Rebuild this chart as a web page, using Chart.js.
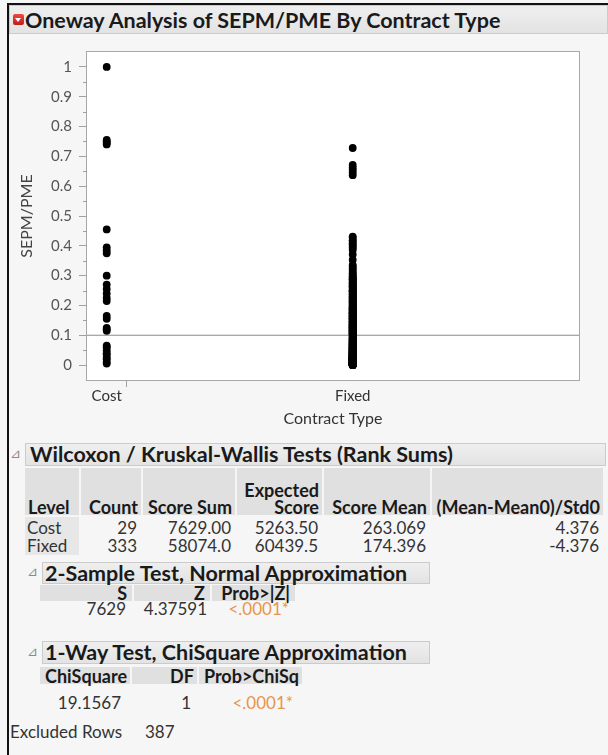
<!DOCTYPE html>
<html>
<head>
<meta charset="utf-8">
<script src="https://cdn.jsdelivr.net/npm/chart.js@4.4.1/dist/chart.umd.min.js"></script>
<style>
    html, body { margin: 0; padding: 0; }
    body {
        width: 608px; height: 755px; position: relative; overflow: hidden;
        background: #f6f6f6; font-family: Lato, 'Open Sans', sans-serif; color: #333;
    }
    .frame { position: absolute; background: #111; z-index: 5; }
    .bar {
        position: absolute; box-sizing: border-box;
        background: linear-gradient(#efefef, #e3e3e3); border: 1px solid #cbcbcb;
    }
    .hcell { position: absolute; background: #e0e0e0; }
    .lcell { position: absolute; background: #e7e7e7; }
    .txt { position: absolute; white-space: nowrap; }
    .tri { position: absolute; font-family: 'DejaVu Sans', sans-serif; font-size: 13px; color: #8a8a8a; }
    .redbtn {
        position: absolute; left: 13px; top: 14px; width: 11px; height: 11px;
        background: linear-gradient(#ea4b42, #c41c17); border-radius: 2px;
    }
    .redbtn::after {
        content: ''; position: absolute; left: 2px; top: 4px;
        border-left: 3.5px solid transparent; border-right: 3.5px solid transparent; border-top: 4.5px solid #fff;
    }
    #plot { position: absolute; left: 0; top: 36px; width: 608px; height: 395px; }
</style>
</head>
<body>
<div class="frame" style="left:7px; top:3px; width:601px; height:2px;"></div>
<div class="frame" style="left:7px; top:3px; width:2px; height:752px;"></div>
<div class="bar" style="left:9px; top:5px; width:599px; height:29px;"></div>
<div class="redbtn"></div>
<div id="plot"><canvas id="chart"></canvas></div>
<div id="report"></div>

<script>
// Chart data
const categories = ['Cost', 'Fixed'];
const counts = [29, 333];
const yTicks = [0, 0.1, 0.2, 0.3, 0.4, 0.5, 0.6, 0.7, 0.8, 0.9, 1];
const grandMean = 0.1;

const costValues = [
    1.0, 0.755, 0.75, 0.745, 0.74, 0.455, 0.395, 0.385, 0.375, 0.30,
    0.27, 0.255, 0.24, 0.225, 0.215, 0.165, 0.155, 0.125, 0.12, 0.115,
    0.065, 0.06, 0.05, 0.04, 0.035, 0.025, 0.02, 0.01, 0.005
];

const fixedValues = [
    0.728, 0.671, 0.662, 0.655, 0.646, 0.637, 0.431, 0.427, 0.419, 0.416, 0.409, 0.404, 0.398, 0.393, 0.386, 0.371, 0.353, 0.336, 0.331, 0.324, 0.319,
    0.312, 0.307, 0.303, 0.298, 0.296, 0.291, 0.288, 0.284, 0.279, 0.277, 0.273, 0.268, 0.266, 0.262, 0.259,
    0.255, 0.251, 0.248, 0.246, 0.241, 0.238, 0.235, 0.231, 0.229, 0.226, 0.222, 0.219, 0.216, 0.213, 0.211,
    0.208, 0.206, 0.203, 0.201, 0.274, 0.263, 0.247, 0.236, 0.224, 0.215, 0.287, 0.252,
    0.198, 0.196, 0.193, 0.191, 0.188, 0.186, 0.184, 0.181, 0.179, 0.177, 0.174, 0.172, 0.171, 0.168, 0.166,
    0.164, 0.162, 0.159, 0.157, 0.156, 0.153, 0.151, 0.149, 0.147, 0.145, 0.143, 0.141, 0.139, 0.137, 0.136,
    0.134, 0.132, 0.131, 0.128, 0.127, 0.125, 0.123, 0.122, 0.119, 0.118, 0.116, 0.114, 0.113, 0.111, 0.109,
    0.108, 0.106, 0.105, 0.103, 0.102, 0.101, 0.192, 0.183, 0.175, 0.167, 0.158, 0.146, 0.138, 0.129, 0.121,
    0.115, 0.107, 0.189, 0.176, 0.163, 0.152, 0.144, 0.133, 0.124, 0.117, 0.104, 0.173, 0.155, 0.126, 0.112,
    0.098, 0.0962, 0.094, 0.0927, 0.0903, 0.0886, 0.087, 0.0851, 0.0835, 0.0811, 0.0803, 0.0788, 0.0769, 0.0757, 0.074,
    0.0731, 0.0716, 0.0702, 0.0698, 0.0679, 0.0665, 0.0651, 0.0648, 0.0636, 0.0622, 0.0609, 0.0601, 0.0589, 0.0571, 0.0568,
    0.0557, 0.0549, 0.0538, 0.0526, 0.0519, 0.0507, 0.0498, 0.0483, 0.0479, 0.0466, 0.0458, 0.0449, 0.0441, 0.0433, 0.0425,
    0.0418, 0.0411, 0.0402, 0.0397, 0.0388, 0.0381, 0.0376, 0.0367, 0.0362, 0.0355, 0.0349, 0.0341, 0.0336, 0.0328, 0.0322,
    0.0317, 0.0309, 0.0304, 0.0298, 0.0292, 0.0287, 0.0281, 0.0276, 0.0269, 0.0264, 0.0259, 0.0253, 0.0248, 0.0243, 0.0238,
    0.0234, 0.0229, 0.0224, 0.0219, 0.0215, 0.0211, 0.0206, 0.0201, 0.0197, 0.0193, 0.0189, 0.0185, 0.0181, 0.0177, 0.0174,
    0.0169, 0.0166, 0.0162, 0.0159, 0.0155, 0.0152, 0.0149, 0.0146, 0.0142, 0.0139, 0.0136, 0.0133, 0.013, 0.0127, 0.0124,
    0.0121, 0.0117, 0.0112, 0.0108, 0.0103, 0.0101, 0.0097, 0.0094, 0.0091, 0.0087, 0.0085, 0.0081, 0.0079, 0.0076, 0.0072,
    0.0069, 0.0067, 0.0063, 0.0061, 0.0058, 0.0055, 0.0053, 0.0049, 0.0047, 0.0044, 0.0041, 0.0039, 0.0036, 0.0034, 0.0031,
    0.0029, 0.0027, 0.0024, 0.0022, 0.0019, 0.0017, 0.0015, 0.0013, 0.0011, 0.0009, 0.0007, 0.0006, 0.0004, 0.0003, 0.0002,
    0.0001, 0.0001, 0, 0, 0, 0, 0.0012, 0.0035, 0.0057, 0.0083, 0.0126, 0.0173, 0.0247, 0.0318, 0.0452,
    0.0612, 0.0534, 0.0471, 0.0394, 0.0283, 0.0195, 0.0148, 0.0093, 0.0064, 0.0038, 0.0018, 0.0008, 0.0743, 0.0826, 0.0917,
    0.0685, 0.0579, 0.0505, 0.0427, 0.0359, 0.0302, 0.0262, 0.0221, 0.0183, 0.0157, 0.0131, 0.0107, 0.0089, 0.0052, 0.0025
];

// Report tables
const rankHeader = ['Level', 'Count', 'Score Sum', 'Score', 'Score Mean', '(Mean-Mean0)/Std0'];
const rankCost = ['Cost', '29', '7629.00', '5263.50', '263.069', '4.376'];
const rankFixed = ['Fixed', '333', '58074.0', '60439.5', '174.396', '-4.376'];
const normalHeader = ['S', 'Z', 'Prob>|Z|'];
const normalValues = ['7629', '4.37591', '<.0001*'];
const chiHeader = ['ChiSquare', 'DF', 'Prob>ChiSq'];
const chiValues = ['19.1567', '1', '<.0001*'];
const excludedRows = '387';

// x positions of each level: JMP gives each level a width proportional to its count
const total = counts.reduce((a, b) => a + b, 0);
const centers = counts.map((c, i) => counts.slice(0, i).reduce((a, b) => a + b, 0) + c / 2);

const report = document.getElementById('report');

function box(cls, x1, y1, x2, y2) {
    const d = document.createElement('div');
    d.className = cls;
    d.style.cssText = `left:${x1}px; top:${y1}px; width:${x2 - x1}px; height:${y2 - y1}px;`;
    report.appendChild(d);
}

function label(text, cy, opts) {
    const d = document.createElement('div');
    d.className = 'txt';
    d.textContent = text;
    const size = opts.size || 17;
    const h = Math.round(size * 1.2);
    let css = `top:${cy - h / 2}px; height:${h}px; line-height:${h}px; font-size:${size}px;`;
    css += opts.right != null ? `right:${608 - opts.right}px; text-align:right;` : `left:${opts.left}px;`;
    if (opts.bold) css += 'font-weight:700; color:#1a1a1a;';
    if (opts.color) css += `color:${opts.color};`;
    d.style.cssText = css;
    report.appendChild(d);
}

function tri(x, cy) {
    const d = document.createElement('div');
    d.className = 'tri';
    d.textContent = '\u22BF';
    d.style.cssText = `left:${x}px; top:${cy - 9}px; line-height:18px;`;
    report.appendChild(d);
}

const headSize = 21.5;
const colSize = 18;

// Title
label('Oneway Analysis of SEPM/PME By Contract Type', 20, { left: 25, size: headSize, bold: true });

// Wilcoxon section
tri(10, 454);
box('bar', 25, 443, 606, 466);
label('Wilcoxon / Kruskal-Wallis Tests (Rank Sums)', 454, { left: 30, size: headSize, bold: true });
const rankCols = [[25, 79], [81, 141], [143, 235], [237, 322], [324, 430], [432, 603]];
rankCols.forEach(([a, b], i) => {
    box('hcell', a, 468, b, 515);
    const opts = i === 0 ? { left: a + 3, size: colSize, bold: true } : { right: b - 3, size: colSize, bold: true };
    label(rankHeader[i], 507, opts);
});
label('Expected', 490, { right: rankCols[3][1] - 3, size: colSize, bold: true });
box('lcell', 25, 517, 79, 555);
[rankCost, rankFixed].forEach((row, r) => {
    const cy = 528 + r * 18;
    row.forEach((v, i) => {
        const [a, b] = rankCols[i];
        label(v, cy, i === 0 ? { left: a + 2 } : { right: b - 4 });
    });
});

// 2-sample test
tri(27, 572);
box('bar', 42, 562, 430, 584);
label('2-Sample Test, Normal Approximation', 573, { left: 45, size: headSize, bold: true });
const normalCols = [[40, 132], [134, 210], [212, 295]];
const normalRight = [126, 207, 289];
normalCols.forEach(([a, b], i) => {
    box('hcell', a, 585, b, 601);
    label(normalHeader[i], 593, { right: b - 5, size: colSize, bold: true });
    label(normalValues[i], 609, { right: normalRight[i], color: i === 2 ? '#e8944c' : null });
});

// chi-square test
tri(27, 652);
box('bar', 42, 641, 430, 664);
label('1-Way Test, ChiSquare Approximation', 652, { left: 45, size: headSize, bold: true });
const chiCols = [[40, 130], [132, 197], [199, 302]];
const chiRight = [121, 191, 293];
chiCols.forEach(([a, b], i) => {
    box('hcell', a, 667, b, 684);
    label(chiHeader[i], 676, { right: b - 3, size: colSize, bold: true });
    label(chiValues[i], 703, { right: chiRight[i], color: i === 2 ? '#e8944c' : null });
});

label('Excluded Rows', 732, { left: 10 });
label(excludedRows, 732, { left: 145 });

// White plot area with grey frame and minor ticks on the y axis
const plotFrame = {
    id: 'plotFrame',
    beforeDraw(chart) {
        const { ctx, chartArea: a } = chart;
        ctx.save();
        ctx.fillStyle = '#ffffff';
        ctx.fillRect(a.left, a.top, a.right - a.left, a.bottom - a.top);
        ctx.restore();
    },
    afterDraw(chart) {
        const { ctx, chartArea: a } = chart;
        const y = chart.scales.y;
        ctx.save();
        ctx.strokeStyle = '#a8a8a8';
        ctx.lineWidth = 1;
        ctx.strokeRect(a.left - 0.5, a.top - 0.5, a.right - a.left + 1, a.bottom - a.top + 1);
        ctx.strokeStyle = '#a0a0a0';
        for (let i = 0; i < yTicks.length - 1; i++) {
            const py = Math.round(y.getPixelForValue((yTicks[i] + yTicks[i + 1]) / 2)) + 0.5;
            ctx.beginPath();
            ctx.moveTo(a.left - 4, py);
            ctx.lineTo(a.left, py);
            ctx.stroke();
        }
        ctx.restore();
    }
};

const pointStyle = {
    type: 'scatter',
    backgroundColor: '#000',
    borderColor: '#000',
    pointRadius: 3.9,
    pointBorderWidth: 0,
    pointHoverRadius: 3.9
};

new Chart(document.getElementById('chart'), {
    type: 'scatter',
    data: {
        datasets: [
            { ...pointStyle, label: categories[0], data: costValues.map(v => ({ x: centers[0], y: v })) },
            { ...pointStyle, label: categories[1], data: fixedValues.map(v => ({ x: centers[1], y: v })) },
            {
                type: 'line',
                label: 'Mean',
                data: [{ x: 0, y: grandMean }, { x: total, y: grandMean }],
                borderColor: '#8c8c8c',
                borderWidth: 1.2,
                pointRadius: 0
            }
        ]
    },
    options: {
        responsive: true,
        maintainAspectRatio: false,
        animation: false,
        layout: { padding: { left: 0, right: 29, top: 12, bottom: 0 } },
        plugins: { legend: { display: false }, tooltip: { enabled: false } },
        scales: {
            x: {
                type: 'linear',
                min: 0,
                max: total,
                afterBuildTicks: (scale) => {
                    scale.ticks = [{ value: centers[0] }, { value: counts[0] }, { value: centers[1] }];
                },
                afterFit: (scale) => { scale.height = 51; },
                ticks: {
                    autoSkip: false,
                    maxRotation: 0,
                    padding: 0,
                    color: '#333',
                    font: { family: 'Lato', size: 15 },
                    callback: (value) => {
                        const i = centers.indexOf(value);
                        return i >= 0 ? categories[i] : '';
                    }
                },
                grid: {
                    drawOnChartArea: false,
                    tickLength: 7,
                    tickColor: (ctx) => (ctx.tick && ctx.tick.value === counts[0] ? '#a0a0a0' : 'rgba(0,0,0,0)')
                },
                border: { display: false },
                title: {
                    display: true,
                    text: 'Contract Type',
                    color: '#333',
                    font: { family: 'Lato', size: 16 },
                    padding: { top: 0, bottom: 3 }
                }
            },
            y: {
                min: -0.05,
                max: 1.05,
                afterBuildTicks: (scale) => {
                    scale.ticks = yTicks.map(v => ({ value: v }));
                },
                afterFit: (scale) => { scale.width = 87; },
                ticks: {
                    padding: 7,
                    color: '#555',
                    font: { family: 'Lato', size: 15 },
                    callback: (value) => String(value)
                },
                grid: { drawOnChartArea: false, tickLength: 8, tickColor: '#a0a0a0' },
                border: { display: false },
                title: {
                    display: true,
                    text: 'SEPM/PME',
                    color: '#444',
                    font: { family: 'Lato', size: 16 },
                    padding: { top: 17, bottom: 0 }
                }
            }
        }
    },
    plugins: [plotFrame]
});
</script>
</body>
</html>
